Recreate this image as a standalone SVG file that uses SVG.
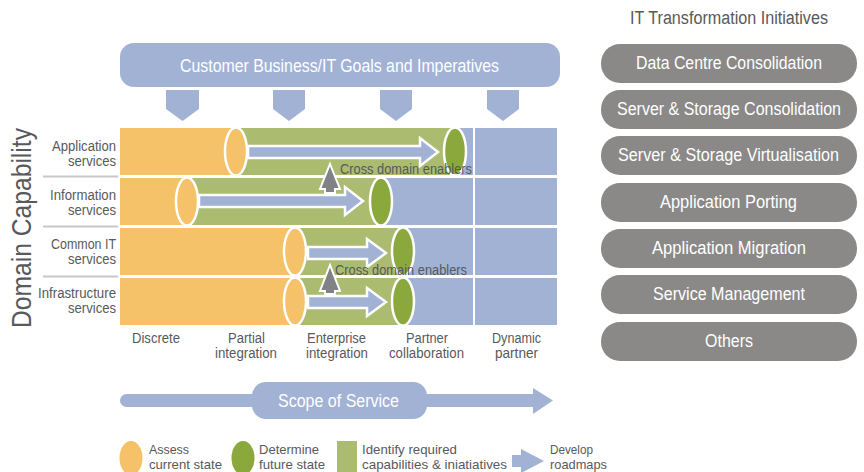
<svg xmlns="http://www.w3.org/2000/svg" width="864" height="472" viewBox="0 0 864 472">
<style>
text{font-family:"Liberation Sans",Arial,sans-serif;font-size:14px;fill:#58595b}
.w{fill:#fff;font-size:17.500px}
.lg{font-size:13px}
.b{fill:#a2b2d4}
.o{fill:#f5c169}
.g{fill:#abbb6f}
.dg{fill:#8aa83c}
.st{stroke:#fff;stroke-width:2.5}
.ar{fill:#a2b2d4;stroke:#fff;stroke-width:2.5}
.up{fill:#808285;stroke:#fff;stroke-width:2}
.pill{fill:#8a8987}
.sep{fill:#c8c8c8}
</style>
<rect width="864" height="472" fill="#fff"/>
<g id="goals">
<rect class="b" x="120" y="43" width="440" height="44" rx="14"/>
<text class="w" x="180" y="72" textLength="319" lengthAdjust="spacingAndGlyphs">Customer Business/IT Goals and Imperatives</text>
</g>
<g id="goal-markers">
<polygon class="b" points="166,90 199,90 199,109 182.500,121 166,109"/>
<polygon class="b" points="273,90 305,90 305,109 289,121 273,109"/>
<polygon class="b" points="380,90 412,90 412,109 396,121 380,109"/>
<polygon class="b" points="487,90 519,90 519,109 503,121 487,109"/>
</g>
<g id="matrix">
<rect class="b" x="120" y="128" width="353" height="47"/><rect class="b" x="475" y="128" width="82" height="47"/>
<rect class="b" x="120" y="178" width="353" height="47"/><rect class="b" x="475" y="178" width="82" height="47"/>
<rect class="b" x="120" y="228" width="353" height="47"/><rect class="b" x="475" y="228" width="82" height="47"/>
<rect class="b" x="120" y="278" width="353" height="47"/><rect class="b" x="475" y="278" width="82" height="47"/>
<rect class="g" x="236" y="128" width="219" height="47"/>
<rect class="g" x="187" y="178" width="194" height="47"/>
<rect class="g" x="295" y="228" width="108" height="47"/>
<rect class="g" x="295" y="278" width="108" height="47"/>
<rect class="o" x="120" y="128" width="116" height="47"/>
<rect class="o" x="120" y="178" width="67" height="47"/>
<rect class="o" x="120" y="228" width="175" height="47"/>
<rect class="o" x="120" y="278" width="175" height="47"/>
</g>
<g id="row-separators">
<rect class="sep" x="43" y="175.500" width="75" height="2"/>
<rect class="sep" x="43" y="225.500" width="75" height="2"/>
<rect class="sep" x="43" y="275.500" width="75" height="2"/>
</g>
<g id="assess-states">
<ellipse class="o st" cx="236" cy="151.500" rx="11" ry="24"/>
<ellipse class="o st" cx="187" cy="201.500" rx="11" ry="24"/>
<ellipse class="o st" cx="295" cy="251.500" rx="11" ry="24"/>
<ellipse class="o st" cx="295" cy="301.500" rx="11" ry="24"/>
</g>
<g id="future-states">
<ellipse class="dg st" cx="455" cy="151.500" rx="11" ry="24"/>
<ellipse class="dg st" cx="381" cy="201.500" rx="11" ry="24"/>
<ellipse class="dg st" cx="403" cy="251.500" rx="11" ry="24"/>
<ellipse class="dg st" cx="403" cy="301.500" rx="11" ry="24"/>
</g>
<g id="connectors">
<polygon class="ar" points="248,146 420,146 420,138 438,152 420,166 420,158 248,158"/>
<polygon class="ar" points="199,195 345,195 345,187 363,201 345,215 345,207 199,207"/>
<polygon class="ar" points="308,247 367,247 367,239 386,253 367,267 367,259 308,259"/>
<polygon class="ar" points="308,296 367,296 367,288 386,302 367,316 367,308 308,308"/>
<polygon class="up" points="330,164 340,189 335,189 335,193 325,193 325,189 320,189"/>
<polygon class="up" points="330,265 340,291 335,291 335,294 325,294 325,291 320,291"/>
</g>
<g id="cross-domain-labels">
<text x="340" y="174" textLength="132" lengthAdjust="spacingAndGlyphs">Cross domain enablers</text>
<text x="335" y="275" textLength="132" lengthAdjust="spacingAndGlyphs">Cross domain enablers</text>
</g>
<g id="domain-labels">
<text transform="translate(31 328) rotate(-90)" style="font-size:28px" textLength="200" lengthAdjust="spacingAndGlyphs">Domain Capability</text>
<text x="52" y="151" textLength="64" lengthAdjust="spacingAndGlyphs">Application</text>
<text x="68" y="166" textLength="48" lengthAdjust="spacingAndGlyphs">services</text>
<text x="50" y="200" textLength="66" lengthAdjust="spacingAndGlyphs">Information</text>
<text x="68" y="215" textLength="48" lengthAdjust="spacingAndGlyphs">services</text>
<text x="51" y="249" textLength="65" lengthAdjust="spacingAndGlyphs">Common IT</text>
<text x="68" y="264" textLength="48" lengthAdjust="spacingAndGlyphs">services</text>
<text x="38" y="298" textLength="78" lengthAdjust="spacingAndGlyphs">Infrastructure</text>
<text x="68" y="313" textLength="48" lengthAdjust="spacingAndGlyphs">services</text>
</g>
<g id="stage-labels">
<text x="132" y="343" textLength="48" lengthAdjust="spacingAndGlyphs">Discrete</text>
<text x="228" y="343" textLength="37" lengthAdjust="spacingAndGlyphs">Partial</text>
<text x="215" y="358" textLength="62" lengthAdjust="spacingAndGlyphs">integration</text>
<text x="307" y="343" textLength="59" lengthAdjust="spacingAndGlyphs">Enterprise</text>
<text x="306" y="358" textLength="62" lengthAdjust="spacingAndGlyphs">integration</text>
<text x="406" y="343" textLength="42" lengthAdjust="spacingAndGlyphs">Partner</text>
<text x="389" y="358" textLength="75" lengthAdjust="spacingAndGlyphs">collaboration</text>
<text x="492" y="343" textLength="49" lengthAdjust="spacingAndGlyphs">Dynamic</text>
<text x="495" y="358" textLength="43" lengthAdjust="spacingAndGlyphs">partner</text>
</g>
<g id="scope">
<path class="b" d="M126.500,394H533V388L553,400.500L533,414V407H126.500A6.500,6.500 0 0 1 126.500,394Z"/>
<rect class="b" x="252" y="382" width="175" height="37" rx="14"/>
<text class="w" x="278" y="407" textLength="121" lengthAdjust="spacingAndGlyphs">Scope of Service</text>
</g>
<g id="legend">
<ellipse class="o" cx="131" cy="458" rx="11.500" ry="17"/>
<text class="lg" x="149" y="454" textLength="40" lengthAdjust="spacingAndGlyphs">Assess</text>
<text class="lg" x="149" y="469" textLength="73" lengthAdjust="spacingAndGlyphs">current state</text>
<ellipse class="dg" cx="243" cy="458" rx="11.500" ry="17"/>
<text class="lg" x="259" y="454" textLength="60" lengthAdjust="spacingAndGlyphs">Determine</text>
<text class="lg" x="259" y="469" textLength="66" lengthAdjust="spacingAndGlyphs">future state</text>
<rect class="g" x="337" y="441" width="20" height="31"/>
<text class="lg" x="362" y="454" textLength="95" lengthAdjust="spacingAndGlyphs">Identify required</text>
<text class="lg" x="362" y="469" textLength="145" lengthAdjust="spacingAndGlyphs">capabilities &amp; iniatiatives</text>
<polygon class="b" points="512,455 521,455 521,449 544,461 521,473 521,467 512,467"/>
<text class="lg" x="550" y="454" textLength="43" lengthAdjust="spacingAndGlyphs">Develop</text>
<text class="lg" x="550" y="469" textLength="57" lengthAdjust="spacingAndGlyphs">roadmaps</text>
</g>
<g id="initiatives-title">
<text x="630" y="24" style="font-size:18px" textLength="198" lengthAdjust="spacingAndGlyphs">IT Transformation Initiatives</text>
</g>
<g id="init-1"><rect class="pill" x="601" y="44" width="256" height="39" rx="19"/><text class="w" x="636" y="69" textLength="186" lengthAdjust="spacingAndGlyphs">Data Centre Consolidation</text></g>
<g id="init-2"><rect class="pill" x="601" y="90" width="256" height="39" rx="19"/><text class="w" x="617" y="115" textLength="224" lengthAdjust="spacingAndGlyphs">Server &amp; Storage Consolidation</text></g>
<g id="init-3"><rect class="pill" x="601" y="136" width="256" height="39" rx="19"/><text class="w" x="618" y="161" textLength="221" lengthAdjust="spacingAndGlyphs">Server &amp; Storage Virtualisation</text></g>
<g id="init-4"><rect class="pill" x="601" y="183" width="256" height="39" rx="19"/><text class="w" x="660" y="208" textLength="137" lengthAdjust="spacingAndGlyphs">Application Porting</text></g>
<g id="init-5"><rect class="pill" x="601" y="229" width="256" height="39" rx="19"/><text class="w" x="652" y="254" textLength="154" lengthAdjust="spacingAndGlyphs">Application Migration</text></g>
<g id="init-6"><rect class="pill" x="601" y="275" width="256" height="39" rx="19"/><text class="w" x="653" y="300" textLength="152" lengthAdjust="spacingAndGlyphs">Service Management</text></g>
<g id="init-7"><rect class="pill" x="601" y="322" width="256" height="39" rx="19"/><text class="w" x="705" y="347" textLength="48" lengthAdjust="spacingAndGlyphs">Others</text></g>
</svg>
